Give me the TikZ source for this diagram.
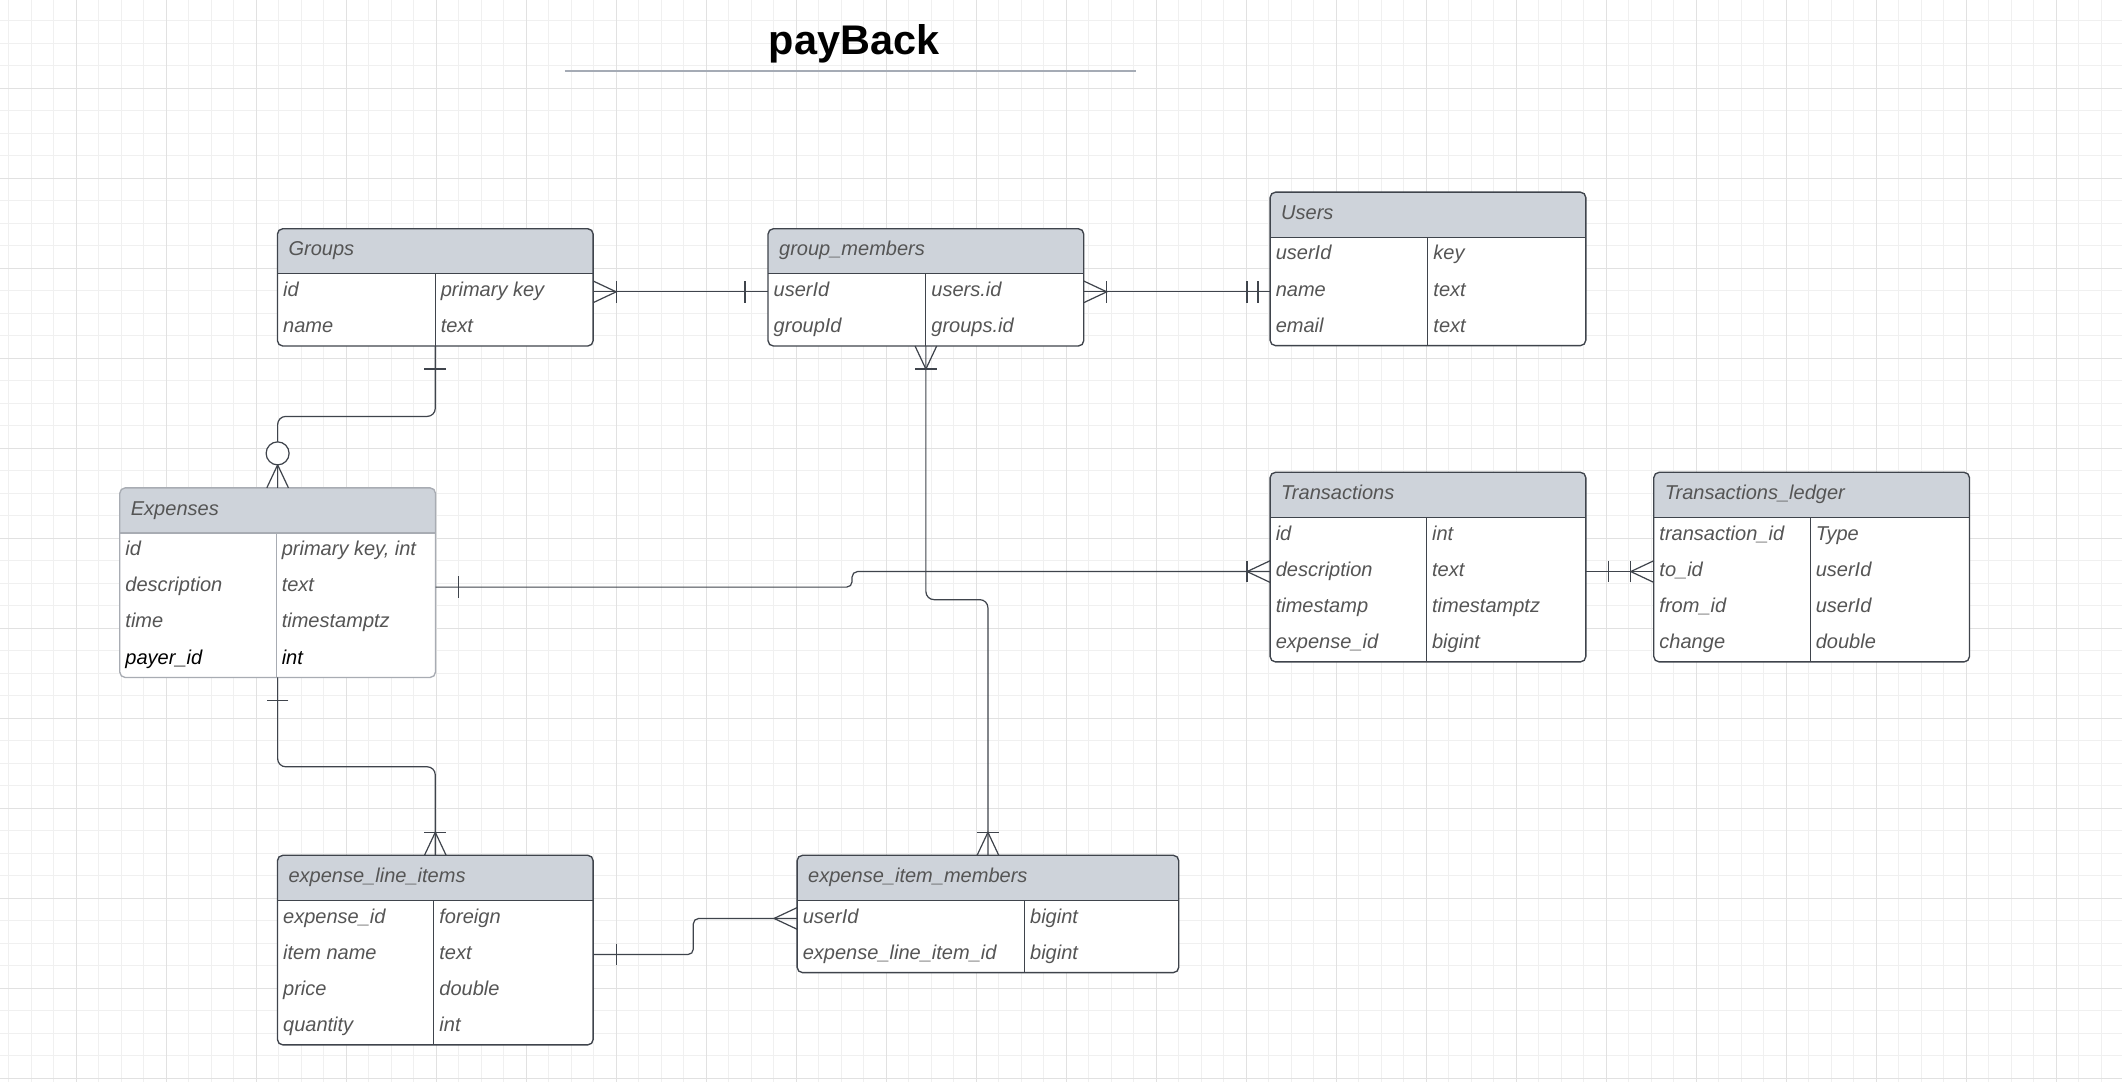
\documentclass[tikz,border=0pt]{standalone}
\usepackage{fontspec}
\setmainfont{Liberation Sans}
\usetikzlibrary{calc}
\definecolor{lnc}{HTML}{3F444C}
\definecolor{paleln}{HTML}{A8ACB3}
\definecolor{hdrc}{HTML}{CED3DA}
\definecolor{txtc}{HTML}{555555}
\definecolor{gridmin}{HTML}{F0F0F0}
\definecolor{gridmaj}{HTML}{E1E1E1}
\definecolor{rulec}{HTML}{A5ABB5}

\begin{document}
\begin{tikzpicture}
      [%%%%%%%%%%%%%%%%%%%%%%%%%%%%%%
      x=1pt, y=-1pt,
      entity/.style={draw=#1, line width=1pt, fill=white, rounded corners=4pt,
        minimum width=233.3pt, inner sep=0pt, outer sep=0pt, anchor=north west,
        path picture={
          \fill[hdrc, sharp corners] (path picture bounding box.north west) rectangle ([yshift=-33.3pt]path picture bounding box.north east);
          \draw[#1, line width=1pt, sharp corners] ([yshift=-33.3pt]path picture bounding box.north west) -- ([yshift=-33.3pt]path picture bounding box.north east);}},
      entity/.default=lnc,
      cell/.style={anchor=base west, inner sep=0pt, text=txtc, font=\fontsize{14.8}{17}\selectfont\itshape},
      cn/.style={draw=lnc, line width=0.9pt},
      gridminor/.style={draw=gridmin, line width=0.6pt},
      gridmajor/.style={draw=gridmaj, line width=0.8pt},
      crowsfoot/.pic={\draw[cn] (0,-8) -- (17,0) -- (0,8);},
      onebar/.pic={\draw[cn] (#1,-8) -- (#1,8);},
      zerocirc/.pic={\draw[cn, fill=white] (25.5,0) circle [radius=8.5pt];},
      ]%%%%%%%%%%%%%%%%%%%%%%%%%%%%%%

      % background and grid
      \fill[white] (0,0) rectangle (1568,799.5);
      \useasboundingbox (0,0) rectangle (1568,799.5);
      \foreach \gx in {0,...,93} \draw[gridminor] (6.5+16.625*\gx,0) -- (6.5+16.625*\gx,799.5);
      \foreach \gy in {0,...,47} \draw[gridminor] (0,15.4+16.625*\gy) -- (1568,15.4+16.625*\gy);
      \foreach \gx in {0,...,22} \draw[gridmajor] (56.4+66.5*\gx,0) -- (56.4+66.5*\gx,799.5);
      \foreach \gy in {1,...,12} \draw[gridmajor] (0,-1.2+66.5*\gy) -- (1568,-1.2+66.5*\gy);

      % title
      \node[anchor=base, inner sep=0pt, font=\fontsize{30.6}{36}\selectfont\bfseries] (title) at (631,40.6) {payBack};
      \draw[rulec, line width=1.5pt] (417.4,52.5) -- (839.7,52.5);

      % tables
      \node[entity, minimum height=86.7pt] (groups) at (205,169) {};
      \node[entity, minimum height=86.7pt] (gm) at (567.5,169) {};
      \node[entity, minimum height=113.4pt] (users) at (938.5,142) {};
      \node[entity=paleln, minimum height=140.1pt] (expenses) at (88.5,360.5) {};
      \node[entity, minimum height=140.1pt] (trans) at (938.5,349) {};
      \node[entity, minimum height=140.1pt] (ledger) at (1222,349) {};
      \node[entity, minimum height=140.1pt] (eli) at (205,632) {};
      \node[entity, minimum height=86.7pt, minimum width=282pt] (eim) at (589,632) {};

      \draw[lnc] ($(groups.north west)+(116.5,33.3)$) -- ($(groups.south west)+(116.5,0)$);
      \draw[lnc] ($(gm.north west)+(116.5,33.3)$) -- ($(gm.south west)+(116.5,0)$);
      \draw[lnc] ($(users.north west)+(116.5,33.3)$) -- ($(users.south west)+(116.5,0)$);
      \draw[paleln] ($(expenses.north west)+(115.5,33.3)$) -- ($(expenses.south west)+(115.5,0)$);
      \draw[lnc] ($(trans.north west)+(115.5,33.3)$) -- ($(trans.south west)+(115.5,0)$);
      \draw[lnc] ($(ledger.north west)+(115.5,33.3)$) -- ($(ledger.south west)+(115.5,0)$);
      \draw[lnc] ($(eli.north west)+(115.5,33.3)$) -- ($(eli.south west)+(115.5,0)$);
      \draw[lnc] ($(eim.north west)+(168,33.3)$) -- ($(eim.south west)+(168,0)$);

      % Groups
      \node[cell] (groups-t) at ($(groups.north west)+(8,20.1)$) {Groups};
      \node[cell] (groups-a1) at ($(groups.north west)+(4,50.1)$) {id};
      \node[cell] (groups-b1) at ($(groups.north west)+(120.5,50.1)$) {primary key};
      \node[cell] (groups-a2) at ($(groups.north west)+(4,76.8)$) {name};
      \node[cell] (groups-b2) at ($(groups.north west)+(120.5,76.8)$) {text};

      % group_members
      \node[cell] (gm-t) at ($(gm.north west)+(8,20.1)$) {group\_members};
      \node[cell] (gm-a1) at ($(gm.north west)+(4,50.1)$) {userId};
      \node[cell] (gm-b1) at ($(gm.north west)+(120.5,50.1)$) {users.id};
      \node[cell] (gm-a2) at ($(gm.north west)+(4,76.8)$) {groupId};
      \node[cell] (gm-b2) at ($(gm.north west)+(120.5,76.8)$) {groups.id};

      % Users
      \node[cell] (users-t) at ($(users.north west)+(8,20.1)$) {Users};
      \node[cell] (users-a1) at ($(users.north west)+(4,50.1)$) {userId};
      \node[cell] (users-b1) at ($(users.north west)+(120.5,50.1)$) {key};
      \node[cell] (users-a2) at ($(users.north west)+(4,76.8)$) {name};
      \node[cell] (users-b2) at ($(users.north west)+(120.5,76.8)$) {text};
      \node[cell] (users-a3) at ($(users.north west)+(4,103.5)$) {email};
      \node[cell] (users-b3) at ($(users.north west)+(120.5,103.5)$) {text};

      % Expenses
      \node[cell] (expenses-t) at ($(expenses.north west)+(8,20.1)$) {Expenses};
      \node[cell] (expenses-a1) at ($(expenses.north west)+(4,50.1)$) {id};
      \node[cell] (expenses-b1) at ($(expenses.north west)+(119.5,50.1)$) {primary key, int};
      \node[cell] (expenses-a2) at ($(expenses.north west)+(4,76.8)$) {description};
      \node[cell] (expenses-b2) at ($(expenses.north west)+(119.5,76.8)$) {text};
      \node[cell] (expenses-a3) at ($(expenses.north west)+(4,103.5)$) {time};
      \node[cell] (expenses-b3) at ($(expenses.north west)+(119.5,103.5)$) {timestamptz};
      \node[cell, text=black] (expenses-a4) at ($(expenses.north west)+(4,130.2)$) {payer\_id};
      \node[cell, text=black] (expenses-b4) at ($(expenses.north west)+(119.5,130.2)$) {int};

      % Transactions
      \node[cell] (trans-t) at ($(trans.north west)+(8,20.1)$) {Transactions};
      \node[cell] (trans-a1) at ($(trans.north west)+(4,50.1)$) {id};
      \node[cell] (trans-b1) at ($(trans.north west)+(119.5,50.1)$) {int};
      \node[cell] (trans-a2) at ($(trans.north west)+(4,76.8)$) {description};
      \node[cell] (trans-b2) at ($(trans.north west)+(119.5,76.8)$) {text};
      \node[cell] (trans-a3) at ($(trans.north west)+(4,103.5)$) {timestamp};
      \node[cell] (trans-b3) at ($(trans.north west)+(119.5,103.5)$) {timestamptz};
      \node[cell] (trans-a4) at ($(trans.north west)+(4,130.2)$) {expense\_id};
      \node[cell] (trans-b4) at ($(trans.north west)+(119.5,130.2)$) {bigint};

      % Transactions_ledger
      \node[cell] (ledger-t) at ($(ledger.north west)+(8,20.1)$) {Transactions\_ledger};
      \node[cell] (ledger-a1) at ($(ledger.north west)+(4,50.1)$) {transaction\_id};
      \node[cell] (ledger-b1) at ($(ledger.north west)+(119.5,50.1)$) {Type};
      \node[cell] (ledger-a2) at ($(ledger.north west)+(4,76.8)$) {to\_id};
      \node[cell] (ledger-b2) at ($(ledger.north west)+(119.5,76.8)$) {userId};
      \node[cell] (ledger-a3) at ($(ledger.north west)+(4,103.5)$) {from\_id};
      \node[cell] (ledger-b3) at ($(ledger.north west)+(119.5,103.5)$) {userId};
      \node[cell] (ledger-a4) at ($(ledger.north west)+(4,130.2)$) {change};
      \node[cell] (ledger-b4) at ($(ledger.north west)+(119.5,130.2)$) {double};

      % expense_line_items
      \node[cell] (eli-t) at ($(eli.north west)+(8,20.1)$) {expense\_line\_items};
      \node[cell] (eli-a1) at ($(eli.north west)+(4,50.1)$) {expense\_id};
      \node[cell] (eli-b1) at ($(eli.north west)+(119.5,50.1)$) {foreign};
      \node[cell] (eli-a2) at ($(eli.north west)+(4,76.8)$) {item name};
      \node[cell] (eli-b2) at ($(eli.north west)+(119.5,76.8)$) {text};
      \node[cell] (eli-a3) at ($(eli.north west)+(4,103.5)$) {price};
      \node[cell] (eli-b3) at ($(eli.north west)+(119.5,103.5)$) {double};
      \node[cell] (eli-a4) at ($(eli.north west)+(4,130.2)$) {quantity};
      \node[cell] (eli-b4) at ($(eli.north west)+(119.5,130.2)$) {int};

      % expense_item_members
      \node[cell] (eim-t) at ($(eim.north west)+(8,20.1)$) {expense\_item\_members};
      \node[cell] (eim-a1) at ($(eim.north west)+(4,50.1)$) {userId};
      \node[cell] (eim-b1) at ($(eim.north west)+(172,50.1)$) {bigint};
      \node[cell] (eim-a2) at ($(eim.north west)+(4,76.8)$) {expense\_line\_item\_id};
      \node[cell] (eim-b2) at ($(eim.north west)+(172,76.8)$) {bigint};

      % connector ends
      \coordinate (gR) at ($(groups.north east)+(0,46.65)$);
      \coordinate (gmL) at ($(gm.north west)+(0,46.65)$);
      \coordinate (gmR) at ($(gm.north east)+(0,46.65)$);
      \coordinate (uL) at (gmR -| users.west);
      \coordinate (eR) at ($(expenses.north east)+(0,73.35)$);
      \coordinate (tL) at ($(trans.north west)+(0,73.35)$);
      \coordinate (tR) at ($(trans.north east)+(0,73.35)$);
      \coordinate (lL) at ($(ledger.north west)+(0,73.35)$);
      \coordinate (liR) at ($(eli.north east)+(0,73.35)$);
      \coordinate (imL) at ($(eim.north west)+(0,46.65)$);

      \draw[cn] (gR) -- (gmL);
      \draw[cn] (gmR) -- (uL);
      \draw[cn, rounded corners=6pt] (groups.south) -- ++(0,52) -| (expenses.north);
      \draw[cn, rounded corners=6pt] (gm.south) -- ++(0,187.4) -| (eim.north);
      \draw[cn, rounded corners=4pt] (eR) -- ++(307.8,0) |- (tL);
      \draw[cn] (tR) -- (lL);
      \draw[cn, rounded corners=4pt] (liR) -- ++(74,0) |- (imL);
      \draw[cn, rounded corners=6pt] (expenses.south) -- ++(0,66) -| (eli.north);

      % ends
      \pic at (gR) {crowsfoot}; \pic at (gR) {onebar=17};
      \pic[rotate=180] at (gmL) {onebar=17};
      \pic at (gmR) {crowsfoot}; \pic at (gmR) {onebar=17};
      \pic[rotate=180] at (uL) {onebar=9}; \pic[rotate=180] at (uL) {onebar=17};
      \pic[rotate=-90] at (groups.south) {onebar=17};
      \pic[rotate=90] at (expenses.north) {crowsfoot}; \pic[rotate=90] at (expenses.north) {zerocirc};
      \pic[rotate=-90] at (gm.south) {crowsfoot}; \pic[rotate=-90] at (gm.south) {onebar=17};
      \pic[rotate=90] at (eim.north) {crowsfoot}; \pic[rotate=90] at (eim.north) {onebar=17};
      \pic at (eR) {onebar=17};
      \pic[rotate=180] at (tL) {crowsfoot}; \pic[rotate=180] at (tL) {onebar=17};
      \pic at (tR) {onebar=17};
      \pic[rotate=180] at (lL) {crowsfoot}; \pic[rotate=180] at (lL) {onebar=17};
      \pic at (liR) {onebar=17};
      \pic[rotate=180] at (imL) {crowsfoot};
      \pic[rotate=-90] at (expenses.south) {onebar=17};
      \pic[rotate=90] at (eli.north) {crowsfoot}; \pic[rotate=90] at (eli.north) {onebar=17};
    \end{tikzpicture}
\end{document}
